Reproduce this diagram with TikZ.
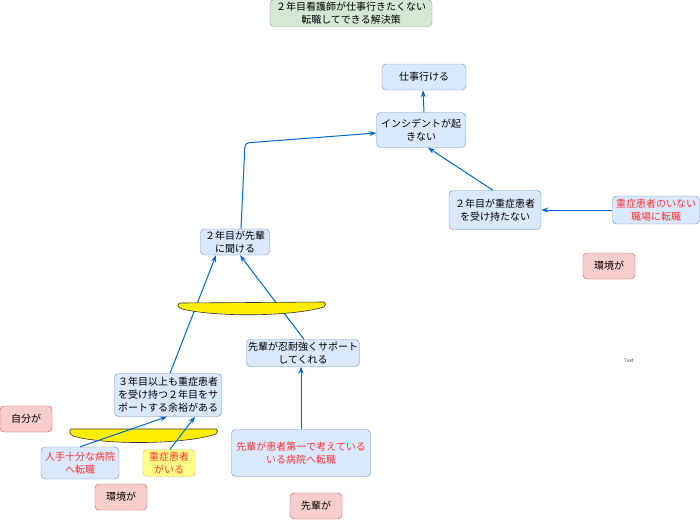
\documentclass[tikz,border=0pt]{standalone}
\usepackage{fontspec}
\setmainfont{Noto Sans CJK JP}
\usetikzlibrary{arrows.meta,positioning}
\definecolor{bluefill}{HTML}{DAE8FC}
\definecolor{blueline}{HTML}{6C8EBF}
\definecolor{greenfill}{HTML}{D5E8D4}
\definecolor{greenline}{HTML}{82B366}
\definecolor{redfill}{HTML}{F8CECC}
\definecolor{redline}{HTML}{B85450}
\definecolor{yelfill}{HTML}{FFFF88}
\definecolor{yelline}{HTML}{D6B656}
\definecolor{arrblue}{HTML}{0066CC}
\definecolor{redtext}{HTML}{FF3333}
\definecolor{lensyel}{HTML}{FFEE00}

\begin{document}
\begin{tikzpicture}[x=1pt, y=-1pt,
  box/.style={draw=blueline, fill=bluefill, rounded corners=4pt, align=center,
              inner sep=1pt, font=\fontsize{10}{13}\selectfont},
  greenbox/.style={box, draw=greenline, fill=greenfill},
  redbox/.style={box, draw=redline, fill=redfill, minimum width=52pt, minimum height=26pt},
  yelbox/.style={box, draw=yelline, fill=yelfill},
  redtxt/.style={text=redtext},
  lens/.style={draw=black!80, fill=lensyel, line width=0.6pt},
  arr/.style={-{Stealth[length=7pt, width=5pt]}, arrblue, line width=1pt},
]
\useasboundingbox (0,0) rectangle (700,520);

% --- Title ---
\node[greenbox, minimum width=162pt, minimum height=27pt] (title) at (351,13)
  {２年目看護師が仕事行きたくない\\転職してできる解決策};

% --- Upper chain ---
\node[box, minimum width=84pt, minimum height=26pt] (go) at (424,77) {仕事行ける};
\node[box, minimum width=89pt, minimum height=35pt] (noinc) at (421,130) {インシデントが起\\きない};
\node[box, minimum width=92pt, minimum height=39pt] (nosevere) at (495,210) {２年目が重症患者\\を受け持たない};
\node[box, redtxt, minimum width=87pt, minimum height=28pt] (moveA) at (656,210) {重症患者のいない\\職場に転職};
\node[redbox] (envR) at (609,266) {環境が};
\node[font=\fontsize{5}{6}\selectfont, text=black!70] (txt) at (629,361) {Text};

% --- Middle ---
\node[box, minimum width=69pt, minimum height=26pt] (ask) at (235,242) {２年目が先輩\\に聞ける};
\node[box, minimum width=113pt, minimum height=27pt] (patient) at (303,353) {先輩が忍耐強くサポート\\してくれる};
\node[box, minimum width=107pt, minimum height=43pt] (spare) at (168,395)
  {３年目以上も重症患者\\を受け持つ２年目をサ\\ポートする余裕がある};

% --- Bottom ---
\node[redbox] (self) at (26,419) {自分が};
\draw[lens] (71,429) -- (216,429) .. controls (218,430) and (218,432) .. (216,434)
  .. controls (183,445) and (103,445) .. (73,436) .. controls (69,434) and (69,430) .. cycle;
\node[box, redtxt, minimum width=78pt, minimum height=32pt] (moveB) at (80,463) {人手十分な病院\\へ転職};
\node[yelbox, redtxt, minimum width=52pt, minimum height=27pt] (severe) at (169,463) {重症患者\\がいる};
\node[redbox] (envL) at (121,497) {環境が};
\node[box, redtxt, minimum width=139pt, minimum height=47pt] (moveC) at (301,453) {先輩が患者第一で考えている\\いる病院へ転職};
\node[redbox] (senior) at (316,506) {先輩が};

% --- Connectors ---
\coordinate (bend) at (245,143);
\draw[arr] ([xshift=3pt]noinc.north) -- ([xshift=-1pt]go.south);
\draw[arr] ([xshift=-2pt]nosevere.north) -- ([xshift=7pt]noinc.south);
\draw[arr] (moveA.west) -- (nosevere.east);
\draw[arr, rounded corners=4pt] ([xshift=6pt]ask.north) -- (bend) -- ([yshift=-3pt]noinc.west);
\draw[arr] ([xshift=2pt]spare.north) -- ([xshift=-19pt]ask.south);
\draw[arr] ([xshift=1pt]patient.north) -- ([xshift=5pt]ask.south);
\draw[arr] (moveC.north) -- (moveC.north |- patient.south);
\draw[arr] (moveB.north) -- ([xshift=-1pt]spare.south);
\draw[arr] ([xshift=1pt]severe.north) -- ([xshift=27pt]spare.south);

% upper lens lies over the two arrows
\draw[lens] (180,303) -- (324,302) .. controls (326,303) and (326,305) .. (324,307)
  .. controls (290,317) and (215,317) .. (182,309) .. controls (177,307) and (177,304) .. cycle;
\end{tikzpicture}
\end{document}
